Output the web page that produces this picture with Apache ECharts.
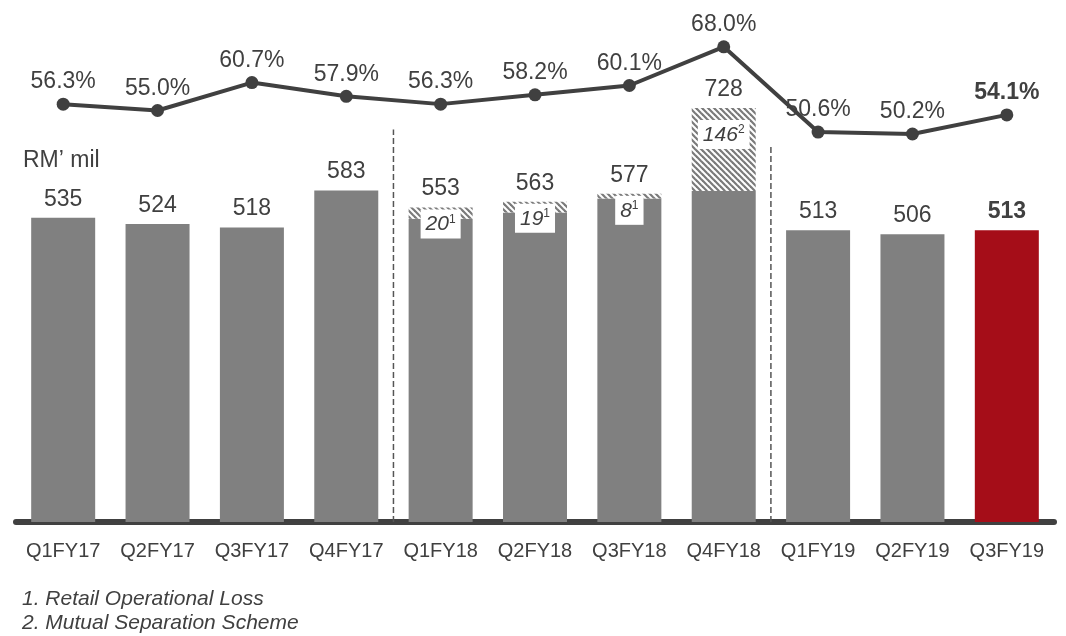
<!DOCTYPE html>
<html>
<head>
<meta charset="utf-8">
<script src="https://cdn.jsdelivr.net/npm/echarts@6/dist/echarts.min.js"></script>
<style>
  html, body { margin: 0; padding: 0; background: #fff; }
  #chart { width: 1066px; height: 636px; }
</style>
</head>
<body>
<div id="chart"></div>
<script>
// Quarterly operating expenses (RM' mil) and cost-to-income ratio
const categories = ['Q1FY17', 'Q2FY17', 'Q3FY17', 'Q4FY17', 'Q1FY18', 'Q2FY18', 'Q3FY18', 'Q4FY18', 'Q1FY19', 'Q2FY19', 'Q3FY19'];
const totals = [535, 524, 518, 583, 553, 563, 577, 728, 513, 506, 513];
const oneOffs = [0, 0, 0, 0, 20, 19, 8, 146, 0, 0, 0];
const oneOffNotes = [0, 0, 0, 0, 1, 1, 1, 2, 0, 0, 0];
const ratios = [56.3, 55.0, 60.7, 57.9, 56.3, 58.2, 60.1, 68.0, 50.6, 50.2, 54.1];
const dividers = [3.5, 7.5];
const dividerTops = [690, 663];
const footnotes = ['1. Retail Operational Loss', '2. Mutual Separation Scheme'];
const unitLabel = 'RM\u2019 mil';

const GREY = '#808080';
const RED = '#a50d18';
const INK = '#404040';
const FONT = '"Liberation Sans", Arial, sans-serif';
const last = categories.length - 1;

// diagonal hatch for one-off items
function hatch() {
  const c = document.createElement('canvas');
  c.width = 6; c.height = 6;
  const g = c.getContext('2d');
  g.fillStyle = '#fff';
  g.fillRect(0, 0, 6, 6);
  g.strokeStyle = '#7a7a7a';
  g.lineWidth = 2.2;
  for (let k = -1; k <= 1; k++) {
    g.beginPath();
    g.moveTo(k * 6 - 1, -1);
    g.lineTo(k * 6 + 7, 7);
    g.stroke();
  }
  return c;
}
const hatchImg = hatch();

const baseData = totals.map((t, i) => ({
  value: t - oneOffs[i],
  itemStyle: { color: i === last ? RED : GREY }
}));
const oneOffData = oneOffs.map((v, i) => ({
  value: v,
  label: {
    show: v > 0,
    distance: v > 50 ? 12 : 2
  }
}));
const topData = totals.map((t, i) => ({
  value: 0,
  label: i === last ? { fontWeight: 'bold' } : {}
}));
const ratioData = ratios.map((r, i) => ({
  value: r,
  label: i === last ? { fontWeight: 'bold' } : {}
}));

const dividerSeries = dividers.map((x, i) => ({
  type: 'line',
  xAxisIndex: 2,
  yAxisIndex: 0,
  data: [[x, 0], [x, dividerTops[i]]],
  symbol: 'none',
  silent: true,
  lineStyle: { color: '#555', width: 1.5, type: [6, 3] },
  z: 1
}));

const chart = echarts.init(document.getElementById('chart'), null, { renderer: 'canvas' });
chart.setOption({
  animation: false,
  textStyle: { fontFamily: FONT },
  grid: [
    { left: 16, right: 12, top: 67, bottom: 114 },
    { left: 16, right: 12, top: 37, bottom: 452 }
  ],
  xAxis: [
    {
      type: 'category', gridIndex: 0, data: categories, offset: 3,
      axisLine: { lineStyle: { color: INK, width: 6 } },
      axisTick: { show: false },
      axisLabel: { color: INK, fontSize: 20, margin: 16, fontFamily: FONT, interval: 0, hideOverlap: false }
    },
    { type: 'category', gridIndex: 1, data: categories, show: false },
    { type: 'value', gridIndex: 0, min: -0.5, max: 10.5, show: false }
  ],
  yAxis: [
    { type: 'value', gridIndex: 0, min: 0, max: 800, show: false, splitLine: { show: false } },
    { type: 'value', gridIndex: 1, min: 40, max: 70, show: false, splitLine: { show: false } }
  ],
  series: [
    ...dividerSeries,
    {
      type: 'bar', stack: 'opex', xAxisIndex: 0, yAxisIndex: 0,
      barWidth: 64, data: baseData, z: 2
    },
    {
      type: 'bar', stack: 'opex', xAxisIndex: 0, yAxisIndex: 0,
      data: oneOffData, z: 2,
      itemStyle: { color: { image: hatchImg, repeat: 'repeat' } },
      label: {
        position: 'insideTop',
        backgroundColor: '#fff',
        padding: [4, 5, 3, 5],
        formatter: p => '{n|' + p.value + '}{s|' + oneOffNotes[p.dataIndex] + '}',
        rich: {
          n: { fontSize: 21, fontStyle: 'italic', color: INK, fontFamily: FONT, lineHeight: 22 },
          s: { fontSize: 12, color: INK, fontFamily: FONT, verticalAlign: 'top', lineHeight: 22, padding: [0, 0, 8, 0] }
        }
      }
    },
    {
      type: 'bar', stack: 'opex', xAxisIndex: 0, yAxisIndex: 0,
      data: topData, z: 3,
      itemStyle: { color: 'transparent' },
      label: {
        show: true, position: 'top', distance: 7,
        color: INK, fontSize: 23, fontFamily: FONT,
        formatter: p => String(totals[p.dataIndex])
      }
    },
    {
      type: 'line', xAxisIndex: 1, yAxisIndex: 1,
      data: ratioData, z: 5,
      symbol: 'circle', symbolSize: 13,
      lineStyle: { color: INK, width: 4 },
      itemStyle: { color: INK },
      label: {
        show: true, position: 'top', distance: 4,
        color: INK, fontSize: 23, fontFamily: FONT,
        formatter: p => p.value.toFixed(1) + '%'
      }
    }
  ],
  graphic: [
    {
      type: 'text', left: 23, top: 149,
      style: { text: unitLabel, fill: INK, font: '23px ' + FONT }
    },
    ...footnotes.map((t, i) => ({
      type: 'text', left: 22, top: 589 + i * 24,
      style: { text: t, fill: INK, font: 'italic 21px ' + FONT }
    }))
  ]
});
</script>
</body>
</html>
